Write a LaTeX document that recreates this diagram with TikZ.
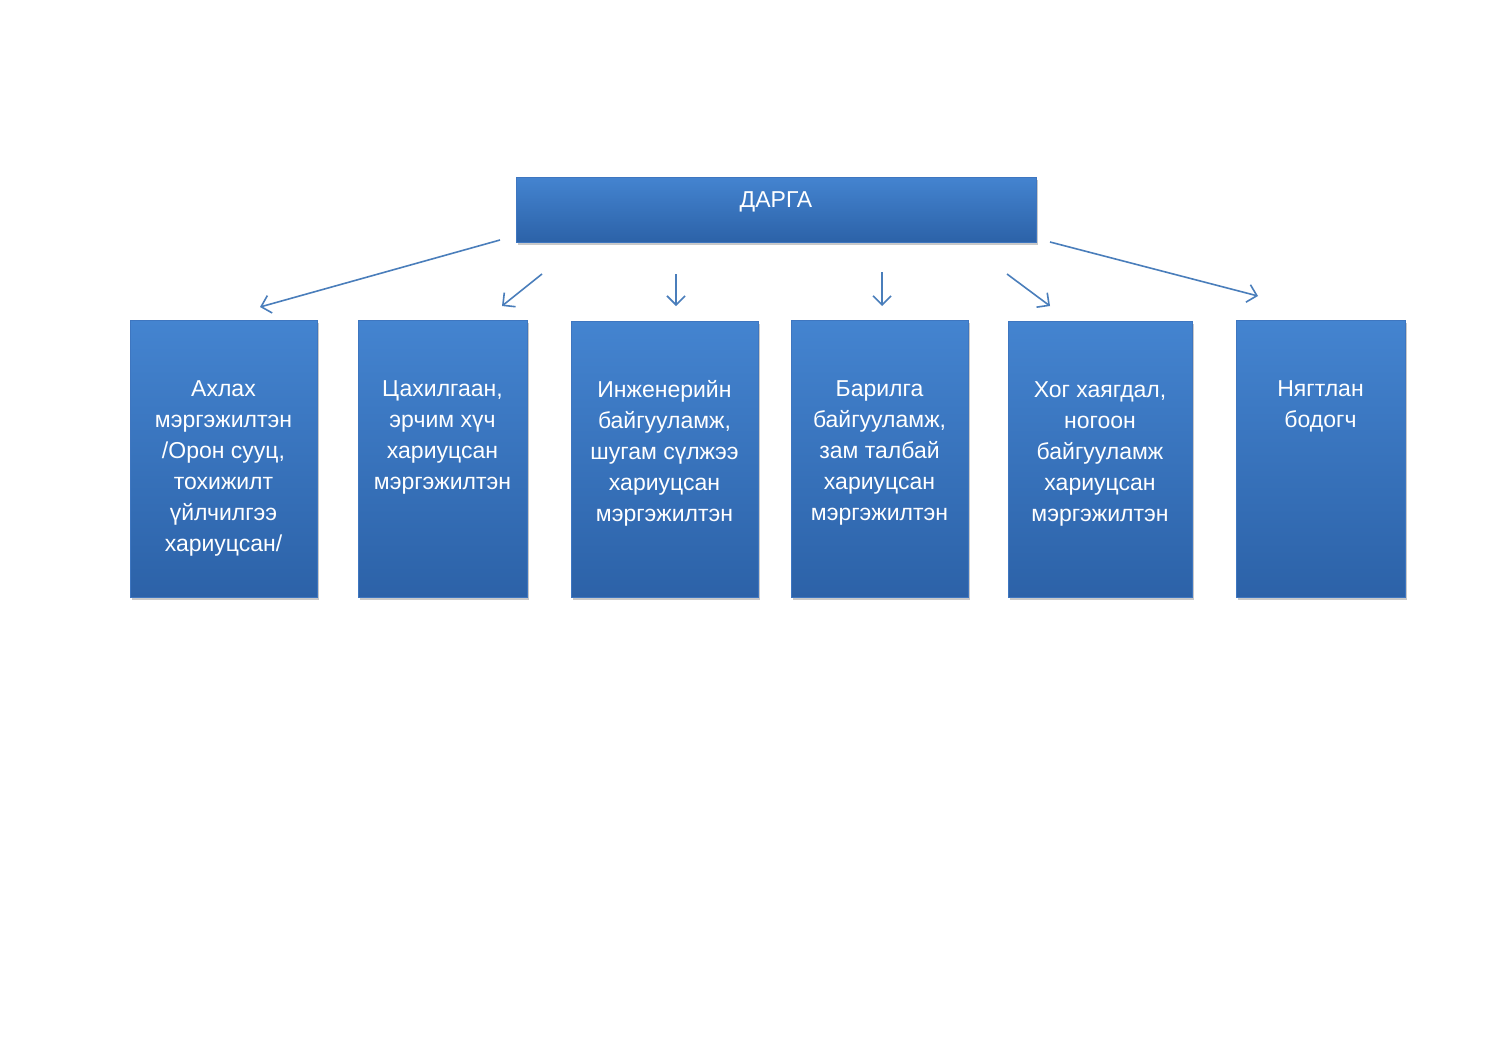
\documentclass[tikz,border=0pt]{standalone}
\usepackage{fontspec}
\setmainfont{Liberation Sans}
\usetikzlibrary{arrows.meta,shadows}
\definecolor{boxtop}{RGB}{68,132,208}
\definecolor{boxbot}{RGB}{44,98,168}
\definecolor{boxedge}{RGB}{62,118,192}
\definecolor{arrowc}{RGB}{74,126,187}
\tikzset{
  box/.style={rectangle, inner sep=0pt, top color=boxtop, bottom color=boxbot,
    draw=boxedge, line width=0.6pt,
    drop shadow={shadow xshift=1.5pt, shadow yshift=-2.5pt, opacity=0.35, fill=black!60}},
  lbl/.style={text=white, align=center, inner sep=0pt, anchor=north,
    font=\fontsize{23pt}{31pt}\selectfont},
  conn/.style={draw=arrowc, line width=1.6pt, -{Straight Barb[length=9pt,width=18pt,line width=1.6pt]}}
}
\begin{document}
\begin{tikzpicture}[x=1pt,y=-1pt]
\useasboundingbox[fill=white] (0,0) rectangle (1500,1061);
% boxes
\node[box, minimum width=520pt, minimum height=65pt] (top) at (776,209.5) {};
\node[box, minimum width=187pt, minimum height=277pt] (b1) at (223.5,458.5) {};
\node[box, minimum width=169pt, minimum height=277pt] (b2) at (442.5,458.5) {};
\node[box, minimum width=187pt, minimum height=276pt] (b3) at (664.5,459) {};
\node[box, minimum width=177pt, minimum height=277pt] (b4) at (879.5,458.5) {};
\node[box, minimum width=184pt, minimum height=276pt] (b5) at (1100,459) {};
\node[box, minimum width=169pt, minimum height=277pt] (b6) at (1320.5,458.5) {};
% labels
\node[lbl] (t0) at ([yshift=-9pt]top.north) {\strut ДАРГА};
\node[lbl] (t1) at ([yshift=-55pt]b1.north) {\strut Ахлах\\мэргэжилтэн\\/Орон сууц,\\тохижилт\\үйлчилгээ\\хариуцсан/};
\node[lbl] (t2) at ([yshift=-55pt]b2.north) {\strut Цахилгаан,\\эрчим хүч\\хариуцсан\\мэргэжилтэн};
\node[lbl] (t3) at ([yshift=-55pt]b3.north) {\strut Инженерийн\\байгууламж,\\шугам сүлжээ\\хариуцсан\\мэргэжилтэн};
\node[lbl] (t4) at ([yshift=-55pt]b4.north) {\strut Барилга\\байгууламж,\\зам талбай\\хариуцсан\\мэргэжилтэн};
\node[lbl] (t5) at ([yshift=-55pt]b5.north) {\strut Хог хаягдал,\\ногоон\\байгууламж\\хариуцсан\\мэргэжилтэн};
\node[lbl] (t6) at ([yshift=-55pt]b6.north) {\strut Нягтлан\\бодогч};
% floating arrow ends
\coordinate (s1) at (500,240);  \coordinate (e1) at (260,307);
\coordinate (s2) at (542,274);  \coordinate (e2) at (502,306);
\coordinate (s3) at (676,274);  \coordinate (e3) at (676,306);
\coordinate (s4) at (882,272);  \coordinate (e4) at (882,306);
\coordinate (s5) at (1007,274); \coordinate (e5) at (1050,306);
\coordinate (s6) at (1050,242); \coordinate (e6) at (1258,296);
\draw[conn] (s1) -- (e1);
\draw[conn] (s2) -- (e2);
\draw[conn] (s3) -- (e3);
\draw[conn] (s4) -- (e4);
\draw[conn] (s5) -- (e5);
\draw[conn] (s6) -- (e6);
\end{tikzpicture}
\end{document}
